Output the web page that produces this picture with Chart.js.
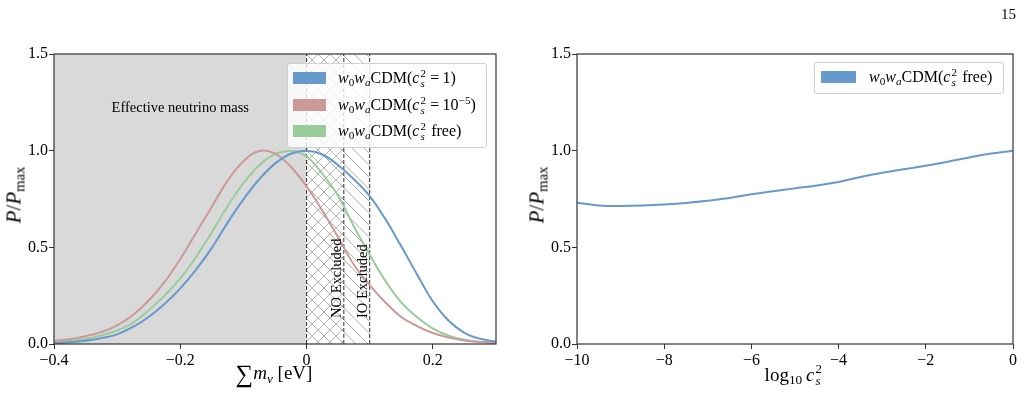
<!DOCTYPE html>
<html>
<head>
<meta charset="utf-8">
<script src="https://cdn.jsdelivr.net/npm/chart.js@4.4.1/dist/chart.umd.min.js"></script>
<style>
  html,body{margin:0;padding:0;background:#fff;}
  body{width:1028px;height:407px;position:relative;overflow:hidden;font-family:'Liberation Serif',serif;color:#000;}
  canvas{position:absolute;top:0;}
  .lbl{position:absolute;white-space:nowrap;line-height:1;}
  .ss{display:inline-block;position:relative;width:0.42em;height:0.7em;margin-left:1px;}
  .ss .p,.ss .b{position:absolute;left:0;font-size:0.68em;line-height:1;}
  .ss .p{bottom:0.4em;}
  .ss .b{bottom:-0.55em;font-style:italic;}
  sub{font-size:0.7em;vertical-align:-0.3em;line-height:0;}
  sup{font-size:0.7em;vertical-align:0.5em;line-height:0;}
  .legend{position:absolute;background:rgba(255,255,255,0.8);border:1px solid #d0d0d0;border-radius:3px;box-sizing:border-box;}
  .row{position:absolute;left:0;right:0;height:20px;}
  .sw{position:absolute;width:33px;height:12px;}
  .row .t{position:absolute;font-size:16px;white-space:nowrap;line-height:1;}
</style>
</head>
<body>
<canvas id="left" width="510" height="407" style="left:0"></canvas>
<canvas id="right" width="508" height="407" style="left:520px"></canvas>

<div class="lbl" style="left:1001px;top:7px;font-size:15px;">15</div>

<div class="lbl" style="left:14px;top:195px;font-size:21px;transform:translate(-50%,-50%) rotate(-90deg);"><i>P</i>/<i>P</i><sub>max</sub></div>
<div class="lbl" style="left:537px;top:195px;font-size:21px;transform:translate(-50%,-50%) rotate(-90deg);"><i>P</i>/<i>P</i><sub>max</sub></div>
<div class="lbl" style="left:274px;top:374px;font-size:19px;transform:translate(-50%,-50%);"><span style="font-size:1.3em;vertical-align:-0.12em">&sum;</span><i>m</i><sub><i>&nu;</i></sub> [eV]</div>
<div class="lbl" style="left:794px;top:374px;font-size:19px;transform:translate(-50%,-50%);">log<sub>10</sub>&#8201;<i>c</i><span class="ss"><span class="p">2</span><span class="b">s</span></span></div>

<div class="legend" style="left:287px;top:63px;width:200px;height:85px;">
  <div class="row" style="top:4px"><div class="sw" style="left:5px;top:4px;background:#6699cc"></div><div class="t" style="left:50px;top:2px"><i>w</i><sub>0</sub><i>w</i><sub><i>a</i></sub>CDM(<i>c</i><span class="ss"><span class="p">2</span><span class="b">s</span></span>&#8201;=&#8201;1)</div></div>
  <div class="row" style="top:30px"><div class="sw" style="left:5px;top:5px;background:#cc9999"></div><div class="t" style="left:50px;top:3px"><i>w</i><sub>0</sub><i>w</i><sub><i>a</i></sub>CDM(<i>c</i><span class="ss"><span class="p">2</span><span class="b">s</span></span>&#8201;=&#8201;10<sup>&minus;5</sup>)</div></div>
  <div class="row" style="top:57px"><div class="sw" style="left:5px;top:4px;background:#99cc99"></div><div class="t" style="left:50px;top:2px"><i>w</i><sub>0</sub><i>w</i><sub><i>a</i></sub>CDM(<i>c</i><span class="ss"><span class="p">2</span><span class="b">s</span></span> free)</div></div>
</div>
<div class="legend" style="left:814px;top:62px;width:190px;height:32px;">
  <div class="row" style="top:4px"><div class="sw" style="left:6px;top:4px;width:35px;background:#6699cc"></div><div class="t" style="left:54px;top:2px"><i>w</i><sub>0</sub><i>w</i><sub><i>a</i></sub>CDM(<i>c</i><span class="ss"><span class="p">2</span><span class="b">s</span></span> free)</div></div>
</div>

<script>
// sum of neutrino masses grid [eV]
const massX = [-0.4,-0.375,-0.35,-0.325,-0.3,-0.275,-0.25,-0.225,-0.2,-0.175,-0.15,-0.125,-0.1,-0.075,-0.05,-0.025,
  0,0.025,0.05,0.075,0.1,0.125,0.15,0.175,0.2,0.225,0.25,0.275,0.3];
// P/Pmax, cs2 = 1
const pCs1 = [0.004,0.009,0.017,0.03,0.05,0.088,0.14,0.207,0.288,0.385,0.497,0.628,0.748,0.852,0.933,0.984,
  1.0,0.98,0.925,0.852,0.765,0.645,0.505,0.36,0.22,0.12,0.058,0.027,0.012];
// P/Pmax, cs2 = 1e-5
const pCs5 = [0.016,0.025,0.04,0.062,0.096,0.15,0.225,0.32,0.44,0.575,0.71,0.845,0.945,0.998,0.985,0.917,
  0.815,0.69,0.552,0.41,0.305,0.215,0.14,0.093,0.057,0.033,0.018,0.01,0.005];
// P/Pmax, cs2 free
const pFree = [0.009,0.016,0.026,0.045,0.07,0.11,0.175,0.25,0.34,0.45,0.578,0.713,0.832,0.925,0.982,0.998,
  0.97,0.88,0.765,0.608,0.462,0.325,0.215,0.138,0.08,0.043,0.022,0.011,0.007];

// right panel: log10 cs2
const logCs2 = [-10,-9.5,-9,-8.5,-8,-7.5,-7,-6.5,-6,-5.5,-5,-4.5,-4,-3.5,-3,-2.5,-2,-1.5,-1,-0.5,0];
const pCs2 = [0.731,0.717,0.714,0.716,0.721,0.729,0.741,0.755,0.774,0.790,0.805,0.820,0.838,0.864,0.886,0.904,0.922,0.943,0.965,0.985,1.0];

const yTicks = [0, 0.5, 1.0, 1.5];
const massTicks = [-0.4, -0.2, 0, 0.2];
const csTicks = [-10, -8, -6, -4, -2, 0];

const effLimit = 0;     // effective mass region ends here
const noLimit = 0.059;  // normal ordering bound
const ioLimit = 0.1;    // inverted ordering bound

const BLUE = '#6699cc', RED = '#cc9999', GREEN = '#99cc99';
const FONT = "'Liberation Serif', 'DejaVu Serif', serif";
Chart.defaults.font.family = FONT;
Chart.defaults.color = '#000';

const minus = (s)=> s.replace('-', '\u2212');
const pts = (xs, ys)=> xs.map((x,i)=>({x, y:ys[i]}));

function hatch(dir){
  const n = 12, c = document.createElement('canvas');
  c.width = n; c.height = n;
  const g = c.getContext('2d');
  g.strokeStyle = '#b4b4b4'; g.lineWidth = 1;
  g.beginPath();
  if(dir === '\\'){
    g.moveTo(-1,-1); g.lineTo(n+1,n+1);
    g.moveTo(-1,n-1); g.lineTo(1,n+1);
    g.moveTo(n-1,-1); g.lineTo(n+1,1);
  } else {
    g.moveTo(-1,n+1); g.lineTo(n+1,-1);
    g.moveTo(-1,1); g.lineTo(1,-1);
    g.moveTo(n-1,n+1); g.lineTo(n+1,n-1);
  }
  g.stroke();
  return g.createPattern(c, 'repeat');
}

function fixedScales(yWidth, xHeight, xMin, xMax, xT){
  const tickFont = { size:16, family: FONT };
  return {
    x:{ type:'linear', min:xMin, max:xMax,
      afterBuildTicks:(s)=>{ s.ticks = xT.map(v=>({value:v})); },
      afterFit:(s)=>{ s.height = xHeight; },
      border:{ display:false },
      grid:{ drawOnChartArea:false, tickLength:5, tickColor:'#333', tickWidth:1 },
      ticks:{ font:tickFont, padding:2, maxRotation:0, callback:(v)=> minus(String(v)) } },
    y:{ type:'linear', min:0, max:1.5,
      afterBuildTicks:(s)=>{ s.ticks = yTicks.map(v=>({value:v})); },
      afterFit:(s)=>{ s.width = yWidth; },
      border:{ display:false },
      grid:{ drawOnChartArea:false, tickLength:5, tickColor:'#333', tickWidth:1 },
      ticks:{ font:tickFont, padding:1, callback:(v)=> Number(v).toFixed(1) } }
  };
}

const frame = {
  id:'frame',
  afterDatasetsDraw(chart){
    const {ctx, chartArea:a} = chart;
    ctx.save();
    ctx.strokeStyle = '#333'; ctx.lineWidth = 1.2;
    ctx.strokeRect(a.left, a.top, a.right-a.left, a.bottom-a.top);
    ctx.restore();
  }
};

const notes = {
  id:'notes',
  afterDatasetsDraw(chart){
    const {ctx, scales:{x, y}} = chart;
    ctx.save();
    ctx.fillStyle = '#000';
    ctx.font = "14.5px " + FONT;
    ctx.textAlign = 'center'; ctx.textBaseline = 'middle';
    ctx.fillText('Effective neutrino mass', x.getPixelForValue(-0.2), y.getPixelForValue(1.22));
    [['NO Excluded', 0.049, 0.34], ['IO Excluded', 0.0895, 0.325]].forEach(([t, xv, yv])=>{
      ctx.save();
      ctx.translate(x.getPixelForValue(xv), y.getPixelForValue(yv));
      ctx.rotate(-Math.PI/2);
      ctx.fillText(t, 0, 0);
      ctx.restore();
    });
    ctx.restore();
  }
};

const curve = (label, data, color, order)=>({
  label, data, borderColor:color, borderWidth:2, pointRadius:0,
  tension:0.4, fill:false, order
});
const band = (x0, x1, bg, order)=>({
  data:[{x:x0,y:1.5},{x:x1,y:1.5}], borderWidth:0, pointRadius:0,
  fill:'origin', backgroundColor:bg, order
});
const vline = (xv)=>({
  data:[{x:xv,y:0},{x:xv,y:1.5}], borderColor:'#333', borderWidth:1,
  borderDash:[4,2], pointRadius:0, fill:false, order:5
});

new Chart(document.getElementById('left'), {
  type:'line',
  data:{ datasets:[
    curve('cs2=1', pts(massX, pCs1), BLUE, 1),
    curve('cs2=1e-5', pts(massX, pCs5), RED, 2),
    curve('cs2 free', pts(massX, pFree), GREEN, 3),
    band(-0.4, effLimit, '#d9d9d9', 20),
    band(effLimit, ioLimit, hatch('\\'), 12),
    band(effLimit, noLimit, hatch('/'), 11),
    vline(effLimit), vline(noLimit), vline(ioLimit)
  ]},
  options:{
    responsive:false, animation:false, events:[],
    layout:{ padding:{ top:54, right:14, left:0, bottom:0 } },
    plugins:{ legend:{ display:false }, tooltip:{ enabled:false } },
    scales: fixedScales(54, 63, -0.4, 0.3, massTicks)
  },
  plugins:[notes, frame]
});

new Chart(document.getElementById('right'), {
  type:'line',
  data:{ datasets:[ curve('cs2 free', pts(logCs2, pCs2), BLUE, 1) ] },
  options:{
    responsive:false, animation:false, events:[],
    layout:{ padding:{ top:54, right:15, left:0, bottom:0 } },
    plugins:{ legend:{ display:false }, tooltip:{ enabled:false } },
    scales: fixedScales(57, 63, -10, 0, csTicks)
  },
  plugins:[frame]
});
</script>
</body>
</html>
